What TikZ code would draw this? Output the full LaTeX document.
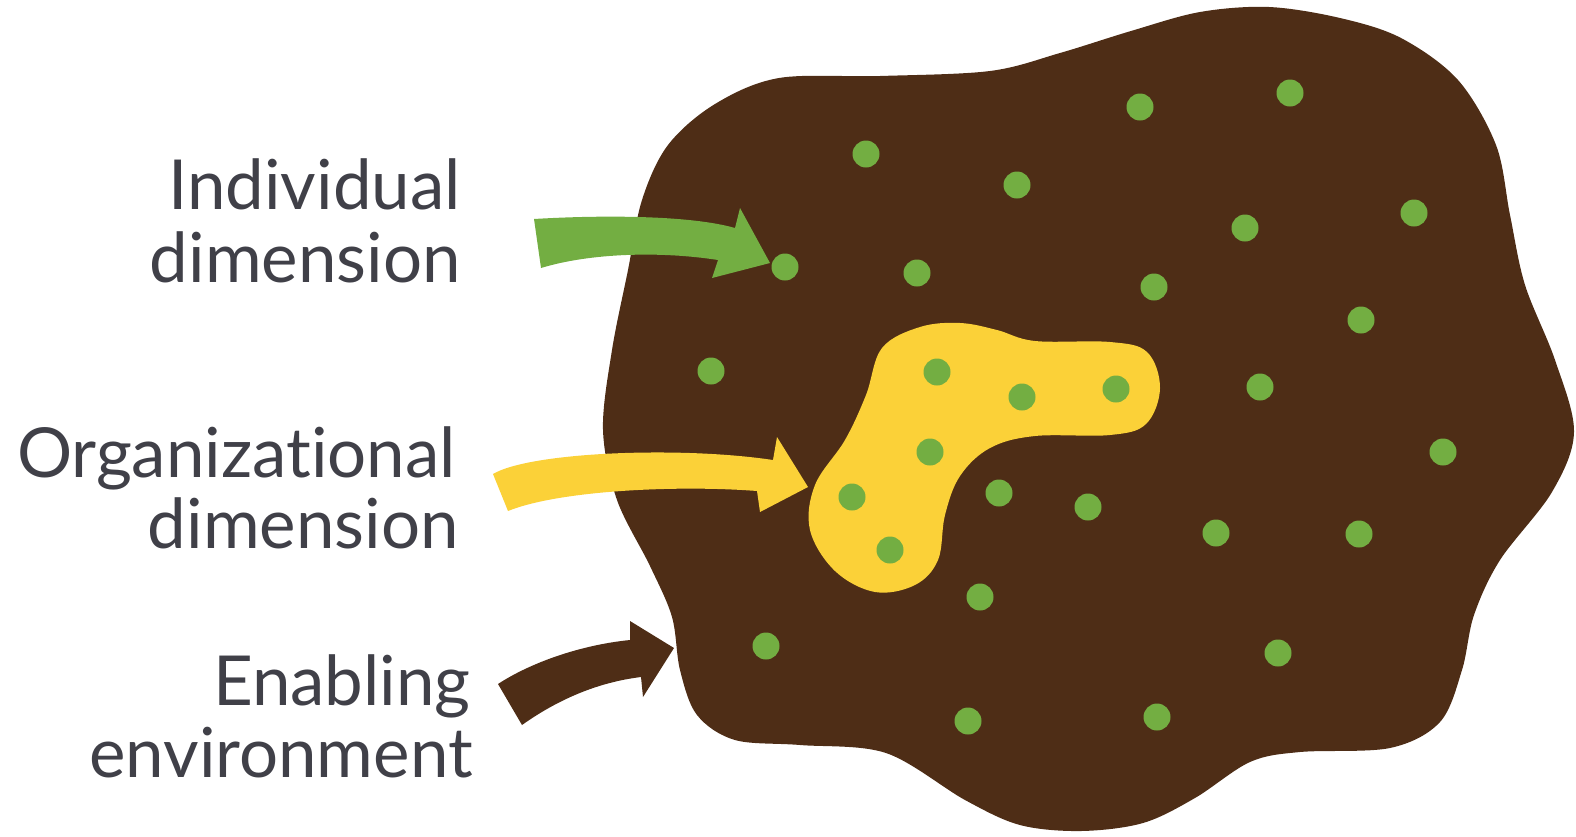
\documentclass[tikz,border=0pt]{standalone}
\usepackage{fontspec}
\setmainfont{Lato}[Ligatures=NoCommon]
\definecolor{soil}{HTML}{4E2D16}
\definecolor{leaf}{HTML}{73AE42}
\definecolor{sun}{HTML}{FBD138}
\definecolor{ink}{HTML}{404048}
\tikzset{
  lbl/.style={anchor=base east, inner sep=0pt, text=ink, font=\fontsize{69}{72}\selectfont},
  seed/.style={circle, fill=leaf, minimum size=27pt, inner sep=0pt}
}
\begin{document}
\begin{tikzpicture}[x=1pt,y=-1pt]
\useasboundingbox (0,0) rectangle (1576,836);
% brown blob
\fill[soil] plot[smooth cycle, tension=0.55] coordinates {
 (779,78) (880,76) (990,71) (1060,53) (1131,31) (1200,12) (1269,7) (1340,18) (1401,38) (1458,80) (1496,145) (1510,215) (1525,285) (1555,360) (1574,432) (1552,492) (1500,560) (1474,615) (1462,670) (1440,722) (1390,748) (1300,752) (1250,762) (1195,798) (1143,823) (1081,831) (1020,825) (965,800) (886,753) (800,745) (735,740) (697,715) (680,670) (672,617) (650,566) (617,500) (603,430) (612,350) (628,270) (642,200) (668,145) (715,104)
};
% arrows
\fill[leaf] (534,219) .. controls (600,215) and (690,215) .. (735,228) -- (740,208) -- (770,263) -- (712,278) -- (718,260) .. controls (660,251) and (590,253) .. (541,268) -- cycle;
\fill[soil] (498,684) .. controls (530,663) and (580,645) .. (630,640) -- (630,621) -- (674,648) -- (643,697) -- (641,677) .. controls (600,682) and (560,698) .. (522,725) -- cycle;
\fill[sun] (493,474) .. controls (530,452) and (680,446) .. (773,460) -- (777,437) -- (808,487) -- (760,512) -- (757,491) .. controls (680,485) and (560,490) .. (508,511) -- cycle;
% yellow blob
\fill[sun] plot[smooth cycle, tension=0.6] coordinates {
 (882,348) (920,327) (960,323) (997,330) (1035,341) (1110,342) (1147,352) (1160,388) (1146,424) (1110,435) (1035,436) (990,448) (960,476) (945,515) (938,560) (915,585) (875,592) (835,571) (810,530) (815,485) (845,440) (866,395)
};
% dots
\foreach \p [count=\i] in {(866,154),(1017,185),(1140,107),(1290,93),(1414,213),(1245,228),(917,273),(1154,287),(1361,320),(711,371),(1260,387),(1443,452),(999,493),(1088,507),(1216,533),(1359,534),(980,597),(766,646),(1278,653),(968,721),(1157,717),(785,267),(937,372),(1022,397),(1116,389),(930,452),(852,497),(890,550)}
  \node[seed] (d\i) at \p {};
% labels
\node[lbl] (ind1) at (461,209) {Individual};
\node[lbl] (ind2) at (461,282) {dimension};
\node[lbl] (org1) at (456,477) {Organizational};
\node[lbl] (org2) at (459,548) {dimension};
\node[lbl] (env1) at (471,705) {Enabling};
\node[lbl] (env2) at (473,777) {environment};
\end{tikzpicture}
\end{document}
